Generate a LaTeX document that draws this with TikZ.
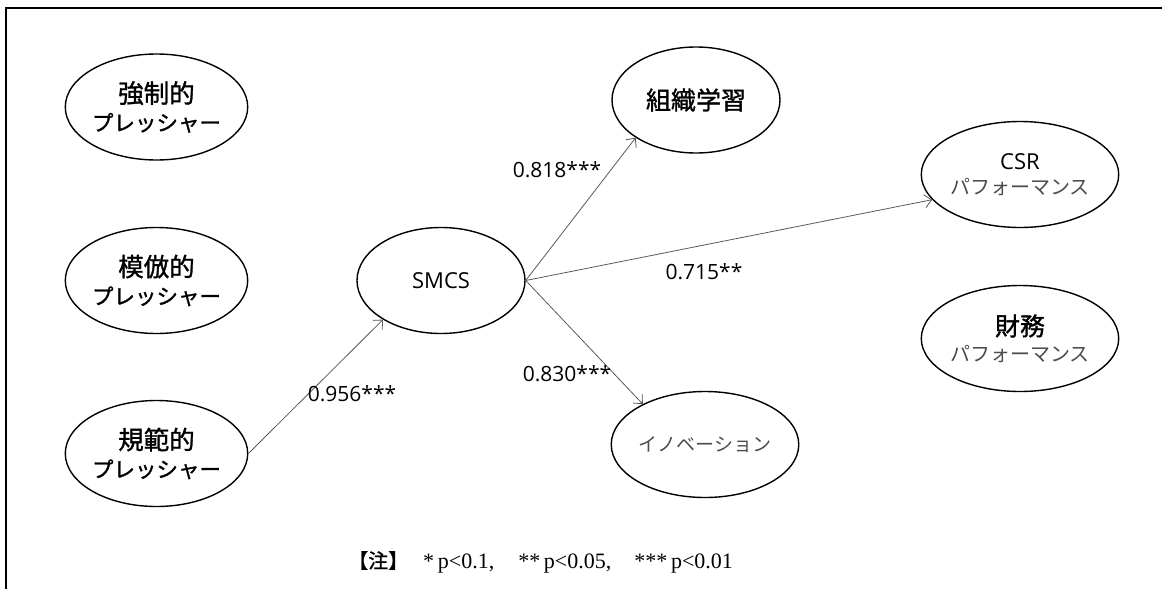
\documentclass[tikz,border=0pt]{standalone}
\usepackage{fontspec}
\setmainfont{Liberation Serif}
\newfontfamily\jp{Noto Sans CJK JP}
\newfontfamily\jpb{Noto Sans CJK JP}[FakeBold=1.2]
\newfontfamily\lat{Open Sans}
\usetikzlibrary{shapes.geometric,arrows.meta}
\tikzset{
  latent/.style={ellipse, draw=black, line width=1.4pt, minimum width=168pt, minimum height=106pt, inner sep=0pt, align=center, font=\jpb\fontsize{22}{30}\selectfont},
  arr/.style={draw=black!65, line width=0.8pt, -{Straight Barb[length=7pt,width=13pt]}},
  coef/.style={font=\lat\fontsize{21}{24}\selectfont, inner sep=0pt},
}
\newcommand{\kanji}[1]{{\fontsize{25.5}{30}\selectfont #1}}
\newcommand{\kata}[1]{{\fontsize{21.5}{30}\selectfont #1}}
\newcommand{\lightkata}[1]{\textcolor{black!70}{\jp\fontsize{20}{24}\selectfont #1}}
\begin{document}
\begin{tikzpicture}[x=1pt,y=-1pt]
\useasboundingbox (0,0) rectangle (1162,589);
\draw[line width=1.3pt] (6,600) -- (6,8) -- (1170,8);

\node[latent] (kyosei) at (156.5,107) {\kanji{強制的}\\[-2pt]\kata{プレッシャー}};
\node[latent] (mohou) at (156.5,280.5) {\kanji{模倣的}\\[-2pt]\kata{プレッシャー}};
\node[latent] (kihan) at (156.5,453.5) {\kanji{規範的}\\[-2pt]\kata{プレッシャー}};
\node[latent, font=\lat\fontsize{22}{26}\selectfont] (smcs) at (441,280.5) {SMCS};
\node[latent, font=\jpb\fontsize{25}{30}\selectfont] (soshiki) at (696,100) {組織学習};
\node[latent] (innov) at (705,444.5) {\textcolor{black!70}{\jp\fontsize{19}{24}\selectfont イノベーション}};
\node[latent, font=\lat\fontsize{22}{26}\selectfont] (csr) at (1020,174.5) {CSR\\[-1pt]\lightkata{パフォーマンス}};
\node[latent] (zaimu) at (1020,338.5) {{\fontsize{25}{28}\selectfont 財務}\\[-4pt]\lightkata{パフォーマンス}};

\draw[arr] (kihan.east) -- (smcs.214);
\draw[arr] (smcs.east) -- (soshiki.212);
\draw[arr] (smcs.east) -- (csr.196);
\draw[arr] (smcs.east) -- (innov.147);

\node[coef] (c1) at (557,170) {0.818***};
\node[coef] (c2) at (704,272) {0.715**};
\node[coef] (c3) at (567,374) {0.830***};
\node[coef] (c4) at (352,394) {0.956***};

\node[font=\fontsize{22}{24}\selectfont, inner sep=0pt, anchor=west] (note) at (348,562) {{\jpb\fontsize{20}{24}\selectfont 【注】}\hspace{15pt}*\,p<0.1,\hspace{24pt}**\,p<0.05,\hspace{23pt}***\,p<0.01};
\end{tikzpicture}
\end{document}
